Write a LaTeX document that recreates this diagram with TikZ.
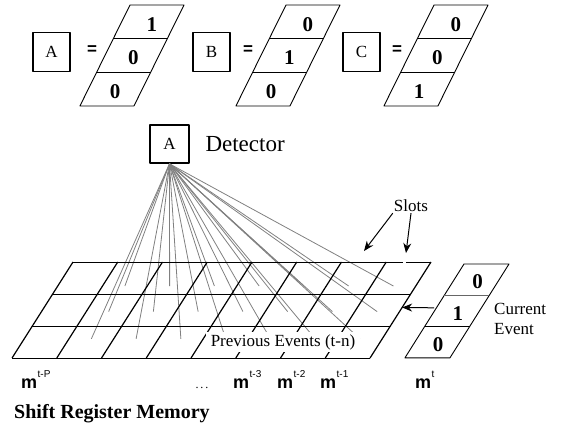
\documentclass[tikz,border=0pt]{standalone}
\usepackage{fontspec}
\setmainfont{Liberation Serif}
\setsansfont{Liberation Sans}
\usetikzlibrary{arrows.meta}
\newcommand{\msup}[1]{\textbf{m}\hspace{0.5pt}\raisebox{11pt}{\fontsize{10}{10}\selectfont #1}}

\begin{document}
\begin{tikzpicture}[x=1pt, y=-1pt, line join=round,
  letterbox/.style={draw, line width=1.6pt, minimum width=37pt, minimum height=39pt, inner sep=0pt, font=\fontsize{17}{17}\selectfont},
  bit/.style={font=\bfseries\fontsize{21}{21}\selectfont, inner sep=0pt},
  eqsign/.style={font=\sffamily\bfseries\fontsize{17}{17}\selectfont, inner sep=0pt},
  lbl/.style={font=\fontsize{17}{20}\selectfont, inner sep=1pt},
  feeler/.style={gray, line width=0.8pt},
  mlabel/.style={font=\sffamily\fontsize{18}{18}\selectfont, anchor=base west, inner sep=0pt},
  pointer/.style={-{Stealth[length=10pt, width=8pt]}, line width=1pt}]
\useasboundingbox (0,0) rectangle (562,424);

% the three patterns
\foreach \n/\bx/\ex/\vx/\ta/\tb/\tc in {A/51.5/92/130/1/0/0, B/211.5/248/286/0/1/0, C/361.5/397/434/0/0/1} {
  \node[letterbox] (box\n) at (\bx,52) {\n};
  \node[eqsign] (eq\n) at (\ex,50) {=};
  \begin{scope}[shift={(\vx,5)}, x={(54pt,0pt)}, y={(-16.7pt,-33.67pt)}]
    \draw[line width=0.9pt] (0,0) -- (1,0) -- (1,3) -- (0,3) -- cycle;
    \draw[line width=0.9pt] (0,1) -- (1,1) (0,2) -- (1,2);
    \node[bit] (v\n1) at (0.58,0.57) {\ta};
    \node[bit] (v\n2) at (0.55,1.57) {\tb};
    \node[bit] (v\n3) at (0.52,2.57) {\tc};
  \end{scope}}

% detector
\node[letterbox, minimum width=39pt, minimum height=38pt] (det) at (169.5,144) {A};
\node[anchor=west, font=\fontsize{23}{23}\selectfont] (detlbl) at (202,144) {Detector};

% shift register
\begin{scope}[shift={(73,262)}, x={(44.75pt,0pt)}, y={(-20.32pt,-32pt)}]
  \foreach \c in {1,...,7}
    \foreach \r/\v in {1/0.75, 2/1.55, 3/2.4}
      \coordinate (t\c\r) at (\c+0.5,\v);
  \foreach \c in {1,...,7}
    \foreach \r in {1,2,3}
      \draw[feeler] (det.south) -- (t\c\r);
  \draw[line width=1pt] (0,0) -- (7.37,0) (7.44,0) -- (8,0);
  \foreach \r in {1,2,3}
    \draw[line width=1pt] (0,\r) -- (8,\r);
  \foreach \c in {0,...,8}
    \draw[line width=1.2pt] (\c,0) -- (\c,3);
  \coordinate (gridE) at (8,1.42);
\end{scope}
\node[lbl, fill=white, inner xsep=5pt, inner ysep=2pt] (prev) at (283,342) {Previous Events (t-n)};

% slots
\node[lbl] (slots) at (411,206) {Slots};
\coordinate (slotA) at (364,251);
\coordinate (slotB) at (406,253);
\draw[pointer] (slots.south west) -- (slotA);
\draw[pointer] (slots.south) -- (slotB);

% current event
\begin{scope}[shift={(464,264)}, x={(45pt,0pt)}, y={(-19.7pt,-31.3pt)}]
  \draw[line width=0.9pt] (0,0) -- (1,0) -- (1,3) -- (0,3) -- cycle;
  \draw[line width=0.9pt, black!60] (0,1) -- (1,1);
  \draw[line width=0.9pt] (0,2) -- (1,2);
  \node[bit] (cur1) at (0.55,0.57) {0};
  \node[bit] (cur2) at (0.55,1.57) {1};
  \node[bit] (cur3) at (0.55,2.57) {0};
  \coordinate (curW) at (-0.05,1.4);
\end{scope}
\draw[pointer] (curW) -- (gridE);
\node[lbl, anchor=west, align=left] (curlbl) at (493,319) {Current\\Event};

% time labels
\foreach \x/\s/\nm in {21/t-P/mP, 233/t-3/m3, 277/t-2/m2, 320/t-1/m1, 415/t/m0}
  \node[mlabel] (\nm) at (\x,388) {\msup{\s}};
\node[anchor=base, inner sep=0pt, font=\fontsize{12}{12}\selectfont] (dots) at (202,388) {.\,.\,.};

\node[anchor=base west, inner sep=0pt, font=\bfseries\fontsize{20}{20}\selectfont] (title) at (14,418) {Shift Register Memory};
\end{tikzpicture}
\end{document}
